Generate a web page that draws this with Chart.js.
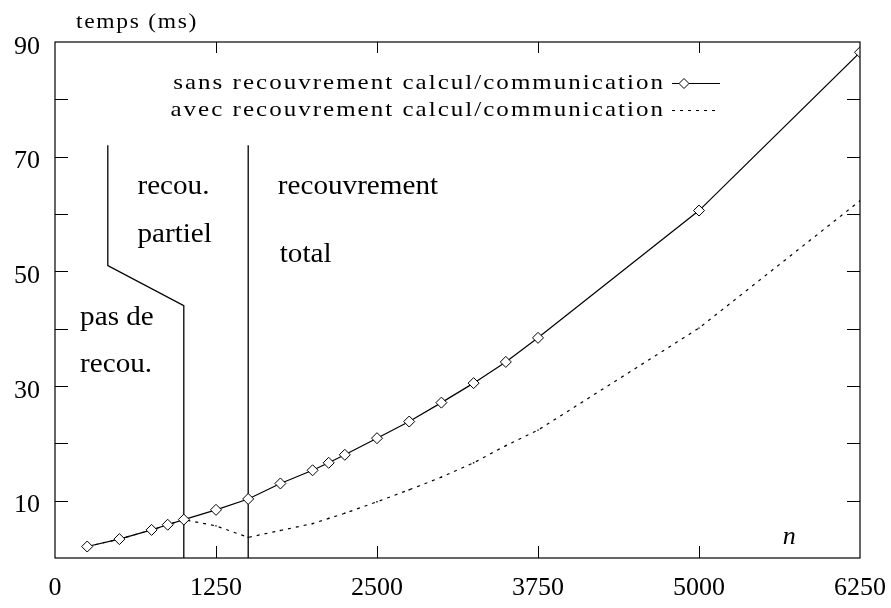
<!DOCTYPE html>
<html><head><meta charset="utf-8">
<script src="https://cdn.jsdelivr.net/npm/chart.js@4.4.1/dist/chart.umd.min.js"></script>
<style>html,body{margin:0;padding:0;background:#fff;}#wrap{width:891px;height:608px;}</style>
</head><body><div id="wrap"><canvas id="c" width="891" height="608"></canvas></div>
<script>
// ---- data ----
const nValues    = [250, 500, 750, 875, 1000, 1250, 1500, 1750, 2000, 2125, 2250, 2500, 2750, 3000, 3250, 3500, 3750, 5000, 6250];
const sansValues = [2.0, 3.3, 4.9, 5.8, 6.7, 8.4, 10.3, 13.0, 15.3, 16.6, 18.0, 20.9, 23.8, 27.1, 30.5, 34.2, 38.4, 60.6, 88.2];
const avecValues = [2.0, 3.3, 4.9, 5.8, 6.7, 5.6, 3.6, 4.8, 6.0, 6.9, 7.8, 9.8, 11.9, 14.1, 16.6, 19.6, 22.3, 40.1, 62.3];
const xTickLabels = ['0', '1250', '2500', '3750', '5000', '6250'];
const yTickLabels = ['10', '30', '50', '70', '90'];
const seriesNames = ['sans recouvrement calcul/communication', 'avec recouvrement calcul/communication'];
const partialBoundaryX = [410, 410, 1000, 1000];
const partialBoundaryY = [72, 51, 44, 0];
const totalBoundaryX = [1500, 1500];
const totalBoundaryY = [72, 0];
const regionLabels = ['recou.', 'partiel', 'recouvrement', 'total', 'pas de', 'recou.'];
const yAxisTitle = 'temps (ms)';
const xAxisTitle = 'n';

// ---- helpers ----
const pts = (xs, ys) => xs.map((x, i) => ({ x: x, y: ys[i] }));
const SERIF = '"Liberation Serif", "Times New Roman", serif';

// anchors of region labels, in data units
const regionAnchors = [[640, 64.7], [640, 56.3], [1730, 64.7], [1745, 52.8], [195, 41.9], [195, 33.7]];

function stretchedText(ctx, txt, px, py, sx, align) {
  ctx.save();
  ctx.translate(px, py);
  ctx.scale(sx, 1);
  ctx.textAlign = align;
  ctx.fillText(txt, 0, 0);
  ctx.restore();
}

const decor = {
  id: 'decor',
  afterDraw(chart) {
    const { ctx, chartArea: a, scales: { x, y } } = chart;
    ctx.save();
    ctx.strokeStyle = '#000';
    ctx.lineWidth = 1.2;
    ctx.strokeRect(a.left, a.top, a.right - a.left, a.bottom - a.top);
    // inward ticks
    ctx.beginPath();
    y.ticks.forEach(t => {
      if (t.value <= y.min || t.value >= y.max) return;
      const py = Math.round(y.getPixelForValue(t.value)) + 0.5;
      ctx.moveTo(a.left, py); ctx.lineTo(a.left + 13, py);
      ctx.moveTo(a.right, py); ctx.lineTo(a.right - 13, py);
    });
    x.ticks.forEach(t => {
      if (t.value <= x.min || t.value >= x.max) return;
      const px = Math.round(x.getPixelForValue(t.value)) + 0.5;
      ctx.moveTo(px, a.bottom); ctx.lineTo(px, a.bottom - 12);
      ctx.moveTo(px, a.top); ctx.lineTo(px, a.top + 11);
    });
    ctx.lineWidth = 1;
    ctx.stroke();

    // axis titles
    ctx.fillStyle = '#000';
    ctx.textBaseline = 'middle';
    ctx.font = '21px ' + SERIF;
    ctx.letterSpacing = '1.5px';
    stretchedText(ctx, yAxisTitle, a.left + 82, a.top - 20, 1.12, 'center');
    ctx.letterSpacing = '0px';
    ctx.font = 'italic 26px ' + SERIF;
    ctx.textAlign = 'center';
    ctx.fillText(xAxisTitle, x.getPixelForValue(5700), y.getPixelForValue(3.6));

    // region labels
    ctx.font = '27px ' + SERIF;
    regionLabels.forEach((txt, i) => {
      const [vx, vy] = regionAnchors[i];
      stretchedText(ctx, txt, x.getPixelForValue(vx), y.getPixelForValue(vy), 1.08, 'left');
    });

    // legend: text right-aligned, sample on the right
    ctx.font = '21px ' + SERIF;
    ctx.letterSpacing = '1.7px';
    const textRight = a.left + 610;
    const sampleL = textRight + 7, sampleR = textRight + 55;
    const rows = [a.top + 41, a.top + 68];
    chart.data.datasets.slice(0, 2).forEach((ds, i) => {
      stretchedText(ctx, seriesNames[i], textRight, rows[i], 1.19, 'right');
      ctx.save();
      ctx.letterSpacing = '0px';
      ctx.strokeStyle = '#000';
      ctx.lineWidth = 1;
      ctx.setLineDash(ds.borderDash || []);
      ctx.beginPath();
      ctx.moveTo(sampleL, rows[i] + 0.5); ctx.lineTo(sampleR, rows[i] + 0.5);
      ctx.stroke();
      ctx.setLineDash([]);
      if (i === 0) {
        const cx = sampleL + 12, cy = rows[i] + 0.5, r = 5;
        ctx.fillStyle = '#fff';
        ctx.beginPath();
        ctx.moveTo(cx, cy - r); ctx.lineTo(cx + r, cy); ctx.lineTo(cx, cy + r); ctx.lineTo(cx - r, cy); ctx.closePath();
        ctx.fill(); ctx.stroke();
      }
      ctx.restore();
    });
    ctx.restore();
  }
};

const boundaryStyle = { borderColor: '#000', borderWidth: 1.3, pointRadius: 0, fill: false, tension: 0 };

new Chart(document.getElementById('c'), {
  type: 'line',
  data: {
    datasets: [
      { label: seriesNames[0], data: pts(nValues, sansValues), borderColor: '#000', borderWidth: 1.2,
        pointStyle: 'rectRot', pointRadius: 5.5, pointBackgroundColor: '#fff', pointBorderColor: '#000',
        pointBorderWidth: 1, tension: 0, fill: false },
      { label: seriesNames[1], data: pts(nValues, avecValues), borderColor: '#000', borderWidth: 1.2,
        borderDash: [3, 5], pointStyle: 'rect', pointRadius: 1, pointBackgroundColor: '#000',
        pointBorderColor: '#000', pointBorderWidth: 0, tension: 0, fill: false },
      Object.assign({ label: 'b1', data: pts(partialBoundaryX, partialBoundaryY) }, boundaryStyle),
      Object.assign({ label: 'b2', data: pts(totalBoundaryX, totalBoundaryY) }, boundaryStyle)
    ]
  },
  options: {
    responsive: false, animation: false, devicePixelRatio: 1,
    layout: { padding: { top: 42, right: 31, left: 0, bottom: 0 } },
    plugins: { legend: { display: false }, tooltip: { enabled: false } },
    scales: {
      x: {
        type: 'linear', min: 0, max: 6250,
        afterBuildTicks: s => { s.ticks = xTickLabels.map(v => ({ value: Number(v) })); },
        afterFit: s => { s.height = 50; s.paddingLeft = 0; s.paddingRight = 0; },
        grid: { display: false, drawTicks: false }, border: { display: false },
        ticks: { font: { family: SERIF, size: 26 }, color: '#000', padding: 15, maxRotation: 0, autoSkip: false,
                 callback: v => String(v) }
      },
      y: {
        type: 'linear', min: 0, max: 90,
        afterFit: s => { s.width = 55; s.paddingTop = 0; s.paddingBottom = 0; },
        grid: { display: false, drawTicks: false }, border: { display: false },
        ticks: { stepSize: 10, font: { family: SERIF, size: 26 }, color: '#000', padding: 15, labelOffset: 5,
                 autoSkip: false, callback: v => (yTickLabels.includes(String(v)) ? String(v) : '') }
      }
    }
  },
  plugins: [decor]
});
</script>
</body></html>
